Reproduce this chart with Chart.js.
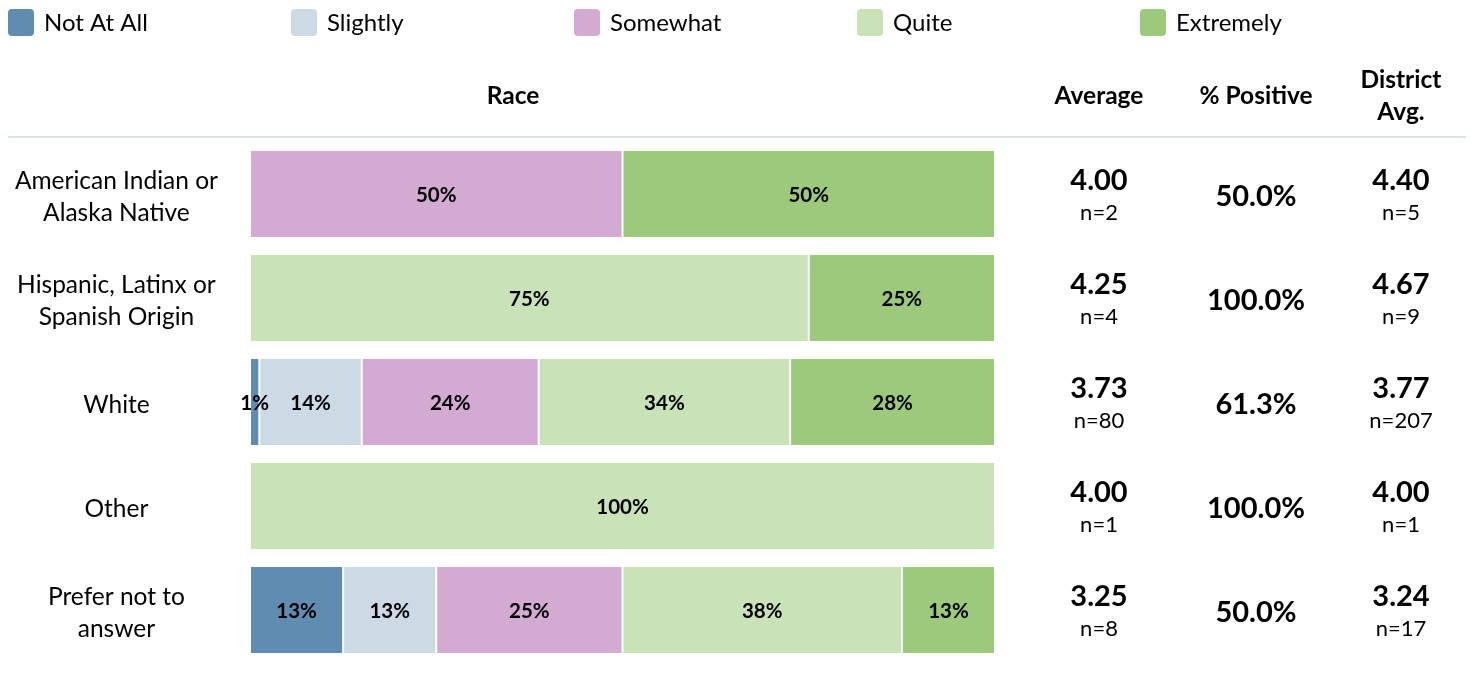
<!DOCTYPE html>
<html>
<head>
<meta charset="utf-8">
<script src="https://cdn.jsdelivr.net/npm/chart.js@4.4.0/dist/chart.umd.min.js"></script>
<style>
  body { margin: 0; background: #fff; }
  canvas { display: block; }
</style>
</head>
<body>
<canvas id="raceChart" width="1475" height="685"></canvas>
<script>
// Categories (rows)
const categories = [
    ['American Indian or', 'Alaska Native'],
    ['Hispanic, Latinx or', 'Spanish Origin'],
    ['White'],
    ['Other'],
    ['Prefer not to', 'answer']
];

// Response shares in % per row
const seriesNames = ['Not At All', 'Slightly', 'Somewhat', 'Quite', 'Extremely'];
const notAtAll  = [0, 0, 1.25, 0, 12.5];
const slightly  = [0, 0, 13.75, 0, 12.5];
const somewhat  = [50, 0, 23.75, 0, 25];
const quite     = [0, 75, 33.75, 100, 37.5];
const extremely = [50, 25, 27.5, 0, 12.5];

// Summary columns
const averages    = ['4.00', '4.25', '3.73', '4.00', '3.25'];
const counts      = [2, 4, 80, 1, 8];
const positive    = ['50.0%', '100.0%', '61.3%', '100.0%', '50.0%'];
const districtAvg = ['4.40', '4.67', '3.77', '4.00', '3.24'];
const districtN   = [5, 9, 207, 1, 17];

const colors = ['#5f8cb0', '#ccdae6', '#d2aad2', '#c9e2b7', '#9dc97d'];
const FONT = 'Lato, "Open Sans", sans-serif';

const seriesData = [notAtAll, slightly, somewhat, quite, extremely];

// Legend, headers, bar labels and the right-hand columns
const tablePlugin = {
    id: 'tablePlugin',
    afterDraw(chart) {
        const c = chart.ctx;
        const yScale = chart.scales.y;
        c.save();

        // legend
        c.textBaseline = 'middle';
        c.textAlign = 'left';
        c.font = '24px ' + FONT;
        seriesNames.forEach((name, i) => {
            let x = 8 + i * 283;
            c.fillStyle = colors[i];
            c.beginPath();
            c.roundRect(x, 9, 26, 27, 4);
            c.fill();
            c.fillStyle = '#000';
            c.fillText(name, x + 36, 23);
        });

        // headers
        c.textAlign = 'center';
        c.font = 'bold 24.5px ' + FONT;
        c.fillText('Race', 513, 96);
        c.fillText('Average', 1099, 96);
        c.fillText('% Positive', 1256, 96);
        c.fillText('District', 1401, 80);
        c.fillText('Avg.', 1401, 112);

        // separator line
        c.strokeStyle = '#d9e3ee';
        c.lineWidth = 2;
        c.beginPath();
        c.moveTo(8, 137);
        c.lineTo(1466, 137);
        c.stroke();

        // labels inside bars
        c.font = 'bold 20.5px ' + FONT;
        c.fillStyle = '#000';
        chart.data.datasets.forEach((ds, di) => {
            let meta = chart.getDatasetMeta(di);
            meta.data.forEach((bar, i) => {
                let v = ds.data[i];
                if (!v) return;
                let cx = (bar.x + bar.base) / 2;
                c.fillText(Math.round(v) + '%', cx, bar.y + 1);
            });
        });

        // right-hand columns
        categories.forEach((_, i) => {
            let y = yScale.getPixelForValue(i);
            c.font = 'bold 29px ' + FONT;
            c.fillText(averages[i], 1099, y - 13);
            c.fillText(positive[i], 1256, y + 3);
            c.fillText(districtAvg[i], 1401, y - 13);
            c.font = '22px ' + FONT;
            c.fillText('n=' + counts[i], 1099, y + 19);
            c.fillText('n=' + districtN[i], 1401, y + 19);
        });

        c.restore();
    }
};

let ctx = document.getElementById('raceChart').getContext('2d');

let raceChart = new Chart(ctx, {
    type: 'bar',
    data: {
        labels: categories,
        datasets: seriesNames.map((name, i) => ({
            label: name,
            data: seriesData[i],
            backgroundColor: colors[i],
            borderColor: 'rgba(255,255,255,0.7)',
            borderWidth: c => (c.raw ? 1 : 0),
            borderSkipped: false,
            categoryPercentage: 0.846,
            barPercentage: 1
        }))
    },
    options: {
        responsive: false,
        maintainAspectRatio: false,
        animation: false,
        indexAxis: 'y',
        layout: {
            padding: { top: 142, bottom: 23, right: 480, left: 0 }
        },
        scales: {
            x: {
                stacked: true,
                min: 0,
                max: 100,
                display: false
            },
            y: {
                stacked: true,
                grid: { display: false },
                border: { display: false },
                ticks: {
                    color: '#000',
                    crossAlign: 'center',
                    padding: 24,
                    labelOffset: 3,
                    font: { family: FONT, size: 24.5, lineHeight: 1.3 }
                },
                afterFit: s => {
                    s.width = 250;
                    s.paddingTop = 0;
                    s.paddingBottom = 0;
                }
            }
        },
        plugins: {
            legend: { display: false },
            tooltip: { enabled: false }
        }
    },
    plugins: [tablePlugin]
});
</script>
</body>
</html>
